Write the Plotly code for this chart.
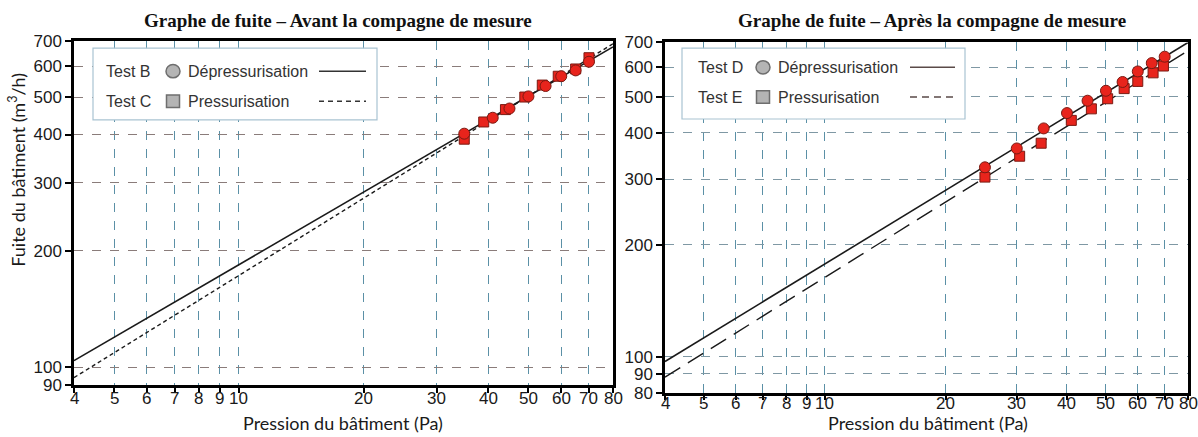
import numpy as np
import plotly.graph_objects as go

# ---------------- data ----------------
x_ticks = [4, 5, 6, 7, 8, 9, 10, 20, 30, 40, 50, 60, 70, 80]
y_ticks_left = [90, 100, 200, 300, 400, 500, 600, 700]
y_ticks_right = [80, 90, 100, 200, 300, 400, 500, 600, 700]

# Left chart (avant)
testB_P = [35, 41, 45, 50, 55, 60, 65, 70]
testB_Q = [402, 442, 467, 502, 534, 566, 586, 617]
testC_P = [35, 39, 44, 49, 54, 59, 65, 70]
testC_Q = [389, 431, 464, 500, 537, 566, 591, 632]

# Right chart (après)
testD_P = [25, 30, 35, 40, 45, 50, 55, 60, 65, 70]
testD_Q = [323, 363, 411, 452, 488, 519, 548, 585, 616, 641]
testE_P = [25, 30.5, 34.5, 41, 46, 50.5, 55.5, 60, 65.5, 69.5]
testE_Q = [304, 346, 375, 432, 464, 494, 526, 550, 580, 605]

# fitted leakage lines (values at 4 Pa and 80 Pa)
fit_P = [4, 80]
testB_fit = [104, 674]
testC_fit = [94, 687]
testD_fit = [97, 700]
testE_fit = [88, 665]

titles = ["Graphe de fuite – Avant la compagne de mesure",
          "Graphe de fuite – Après la compagne de mesure"]
x_title = "Pression du bâtiment (Pa)"
y_title = "Fuite du bâtiment (m<sup>3</sup>/h)"
legend_left = [("Test B", "Dépressurisation"), ("Test C", "Pressurisation")]
legend_right = [("Test D", "Dépressurisation"), ("Test E", "Pressurisation")]

# ---------------- figure ----------------
W, H = 1198, 437
def px(x):
    return min(max(x, 0), W) / W
def py(y):
    return 1 - min(max(y, 0), H) / H

RED = "#e8241c"
EDGE = "#7a1a12"

fig = go.Figure()

def add_panel(xa, ya, P1, Q1, P2, Q2, f1, f2, dash2):
    fig.add_trace(go.Scatter(x=fit_P, y=f1, mode="lines", xaxis=xa, yaxis=ya,
                             line=dict(color="#1a1a1a", width=1.6), showlegend=False))
    fig.add_trace(go.Scatter(x=fit_P, y=f2, mode="lines", xaxis=xa, yaxis=ya,
                             line=dict(color="#1a1a1a", width=1.4, dash=dash2), showlegend=False))
    fig.add_trace(go.Scatter(x=P2, y=Q2, mode="markers", xaxis=xa, yaxis=ya,
                             marker=dict(symbol="square", size=10, color=RED,
                                         line=dict(color=EDGE, width=1)), showlegend=False))
    fig.add_trace(go.Scatter(x=P1, y=Q1, mode="markers", xaxis=xa, yaxis=ya,
                             marker=dict(symbol="circle", size=11, color=RED,
                                         line=dict(color=EDGE, width=1)), showlegend=False))

add_panel("x", "y", testB_P, testB_Q, testC_P, testC_Q, testB_fit, testC_fit, "4px,3px")
add_panel("x2", "y2", testD_P, testD_Q, testE_P, testE_Q, testD_fit, testE_fit, "18px,9px")

tickfont = dict(family="Liberation Sans, Arial, sans-serif", size=17, color="#1a1a1a")
common_x = dict(type="log", range=[np.log10(4), np.log10(80)], tickvals=x_ticks,
                showticklabels=False, showline=True, linecolor="black",
                linewidth=2.5, mirror=True, ticks="outside", ticklen=5, tickwidth=2,
                tickcolor="black", showgrid=True, gridcolor="#5b90a6", gridwidth=1.2,
                griddash="dash", zeroline=False)
common_y = dict(type="log", showline=True, linecolor="black", linewidth=2.5, mirror=True,
                ticks="outside", ticklen=6, tickwidth=2, tickcolor="black", showgrid=True,
                gridwidth=1.2, griddash="dash", zeroline=False, tickfont=tickfont)

fig.update_layout(
    width=W, height=H, margin=dict(l=0, r=0, t=0, b=0),
    paper_bgcolor="white", plot_bgcolor="white", showlegend=False,
    xaxis=dict(common_x, domain=[px(74), px(613)], anchor="y"),
    yaxis=dict(common_y, domain=[py(393), py(33)], anchor="x",
               range=[np.log10(90), np.log10(700)], tickvals=y_ticks_left,
               ticktext=[str(v) for v in y_ticks_left], gridcolor="#8a7c7a"),
    xaxis2=dict(common_x, domain=[px(665), px(1188)], anchor="y2"),
    yaxis2=dict(common_y, domain=[py(401), py(35)], anchor="x2",
                range=[np.log10(80), np.log10(700)], tickvals=y_ticks_right,
                ticktext=[str(v) for v in y_ticks_right], gridcolor="#7f98a4"),
)

ann = []
# x tick labels (placed just under each axis)
for xa, ylab in (("x", 407), ("x2", 412)):
    for t in x_ticks:
        ann.append(dict(text=str(t), x=np.log10(t), xref=xa, y=py(ylab), yref="paper",
                        showarrow=False, font=tickfont, xanchor="center", yanchor="middle"))

title_font = dict(family="Liberation Serif, Times New Roman, serif", size=19, color="#111")
ann.append(dict(text="<b>" + titles[0] + "</b>", x=px(338), y=py(12), xref="paper", yref="paper",
                showarrow=False, font=title_font, xanchor="center", yanchor="middle"))
ann.append(dict(text="<b>" + titles[1] + "</b>", x=px(932), y=py(12), xref="paper", yref="paper",
                showarrow=False, font=title_font, xanchor="center", yanchor="middle"))
axis_font = dict(family="Lato, Open Sans, sans-serif", size=18, color="#1a1a1a")
ann.append(dict(text=x_title, x=px(343), y=py(433), xref="paper", yref="paper",
                showarrow=False, font=axis_font, xanchor="center", yanchor="middle"))
ann.append(dict(text=x_title, x=px(928), y=py(433), xref="paper", yref="paper",
                showarrow=False, font=axis_font, xanchor="center", yanchor="middle"))
ann.append(dict(text=y_title, x=px(17), y=py(168), xref="paper", yref="paper", textangle=-90,
                showarrow=False, font=axis_font, xanchor="center", yanchor="middle"))

shapes = []
leg_font = dict(family="Liberation Sans, Arial, sans-serif", size=16, color="#333")

def add_legend(box, rows, rows_y, tx, cx, lx, line_dash, line_color):
    x0, y0, x1, y1 = box
    shapes.append(dict(type="rect", xref="paper", yref="paper", x0=px(x0), x1=px(x1),
                       y0=py(y1), y1=py(y0), fillcolor="white",
                       line=dict(color="#a9c3d2", width=1.2), layer="above"))
    for i, (test, label) in enumerate(rows):
        yy = rows_y[i]
        ann.append(dict(text=test, x=px(tx), y=py(yy), xref="paper", yref="paper",
                        showarrow=False, font=leg_font, xanchor="left", yanchor="middle"))
        ann.append(dict(text=label, x=px(cx + 13), y=py(yy), xref="paper", yref="paper",
                        showarrow=False, font=leg_font, xanchor="left", yanchor="middle"))
        stype = "circle" if i == 0 else "rect"
        r = 7 if i == 0 else 6.5
        shapes.append(dict(type=stype, xref="paper", yref="paper", x0=px(cx - r), x1=px(cx + r),
                           y0=py(yy + r), y1=py(yy - r), fillcolor="#b4b4b4",
                           line=dict(color="#6e6e6e", width=1.5), layer="above"))
        shapes.append(dict(type="line", xref="paper", yref="paper", x0=px(lx[0]), x1=px(lx[1]),
                           y0=py(yy), y1=py(yy), layer="above",
                           line=dict(color=line_color, width=1.5,
                                     dash="solid" if i == 0 else line_dash)))

add_legend((93, 41, 377, 116), legend_left, [65, 96.5], 104, 173, (319, 366), "5px,4px", "#333")
add_legend((682, 41, 965, 115), legend_right, [61, 92], 696, 763, (910, 955), "7px,5px", "#5a4a48")

fig.update_layout(annotations=ann, shapes=shapes)
fig.write_html("out.html", config={"displayModeBar": False},
               post_script="document.body.style.margin='0';document.body.style.overflow='hidden';")
